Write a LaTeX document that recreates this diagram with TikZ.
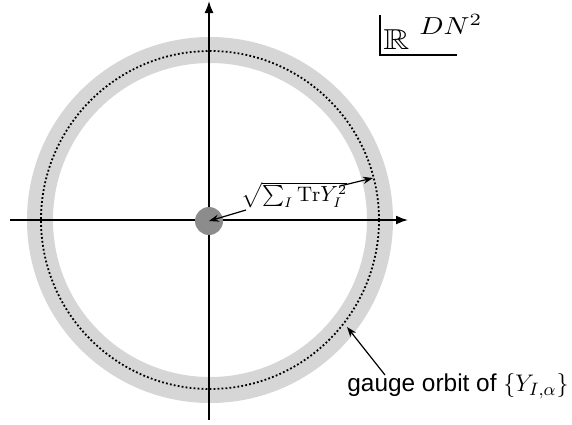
\documentclass[tikz,border=0pt]{standalone}
\usepackage{amsmath,amssymb,graphicx}
\usepackage{fontspec}
\newfontfamily\labelsans{Liberation Sans}
\usetikzlibrary{arrows.meta}
\definecolor{ringgray}{HTML}{D6D6D6}
\definecolor{discgray}{HTML}{8C8C8C}
\tikzset{
  axis/.style={line width=0.8pt,-{Latex[length=6pt,width=4.5pt]}},
  pointer/.style={line width=0.6pt,-{Stealth[length=5pt,width=3.6pt]}},
  dotcirc/.style={line width=0.9pt,dash pattern=on 0.9pt off 1.1pt},
}
\begin{document}
\begin{tikzpicture}[x=0.5pt,y=-0.5pt]
\useasboundingbox (0,0) rectangle (572,424);
\coordinate (O) at (210,220);
% ring
\fill[ringgray,even odd rule] (O) circle[radius=91.5pt] (O) circle[radius=78.5pt];
\draw[dotcirc] (O) circle[radius=84.5pt];
% axes
\coordinate (xl) at (10,220);
\coordinate (xr) at (408,220);
\coordinate (yb) at (209,420);
\coordinate (yt) at (209,1);
\draw[axis] (xl) -- (xr);
\draw[axis] (yb) -- (yt);
% disc
\node[circle,fill=discgray,minimum size=14pt,inner sep=0] (disc) at (209,221) {};
% sqrt label
\node[inner sep=0pt] (sq) at (294,195) {\fontsize{10.5pt}{12pt}\selectfont$\sqrt{\sum_I \mathrm{Tr} Y_I^2}$};
\coordinate (sqa) at (246,210);
\coordinate (sqb) at (340,186);
\coordinate (dotpt) at (373,178);
\draw[pointer] (sqa) -- (disc.center);
\draw[pointer] (sqb) -- (dotpt);
% gauge label
\node[anchor=base west,inner sep=0] (gauge) at (347,391) {\labelsans\fontsize{12.2pt}{14pt}\selectfont gauge orbit of $\{Y_{I,\alpha}\}$};
\coordinate (gpt) at (347,327);
\draw[pointer] (385,375) -- (gpt);
% R^{DN^2}
\node[anchor=south west,inner sep=0] (R) at (383,50) {\scalebox{1.25}[1]{\fontsize{14.4pt}{15pt}\selectfont$\mathbb{R}$}};
\node[anchor=south west,inner sep=0] (DN) at (419,35) {\resizebox{31.5pt}{10pt}{$DN^2$}};
\coordinate (c1) at (380,15);
\coordinate (c2) at (457,55);
\draw[line width=0.75pt] (c1) |- (c2);
\end{tikzpicture}
\end{document}
